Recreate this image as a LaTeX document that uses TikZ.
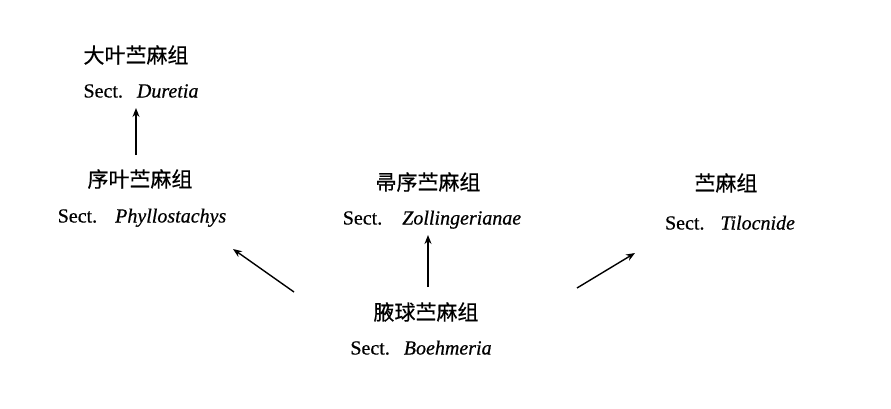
\documentclass[tikz,border=0pt]{standalone}
\usepackage{fontspec}
\setmainfont{Liberation Serif}[FakeBold=0.6]
\newfontfamily\cjk{Noto Sans CJK SC}[FakeBold=0.6]
\usetikzlibrary{arrows.meta}
\begin{document}
\begin{tikzpicture}[x=1pt,y=1pt,
  cn/.style={font=\cjk\fontsize{21}{24}\selectfont, inner sep=0pt, anchor=base},
  lt/.style={font=\fontsize{20}{24}\selectfont, inner sep=0pt, anchor=base},
  arr/.style={-{Stealth[length=9pt,width=7pt]}, line width=1.4pt}]
\useasboundingbox (0,0) rectangle (891,408);
% top-left group
\node[cn] (durCN) at (136,345) {大叶苎麻组};
\node[lt] (durLT) at (141,310.5) {Sect.\hspace{14pt}\textit{Duretia}};
% left group
\node[cn] (phyCN) at (140,221) {序叶苎麻组};
\node[lt] (phyLT) at (142,185.5) {Sect.\hspace{18pt}\textit{Phyllostachys}};
% middle group
\node[cn] (zolCN) at (428,218) {帚序苎麻组};
\node[lt] (zolLT) at (432,183.5) {Sect.\hspace{20pt}\textit{Zollingerianae}};
% right group
\node[cn] (tilCN) at (726,217) {苎麻组};
\node[lt] (tilLT) at (730,178.5) {Sect.\hspace{16pt}\textit{Tilocnide}};
% bottom group
\node[cn] (boeCN) at (426,88) {腋球苎麻组};
\node[lt] (boeLT) at (421,53.5) {Sect.\hspace{14pt}\textit{Boehmeria}};
% arrow end points
\coordinate (a1t) at (136,253);
\coordinate (a1h) at (136,300);
\coordinate (a2t) at (428,121);
\coordinate (a2h) at (428,173);
\coordinate (a3t) at (294,116);
\coordinate (a3h) at (233,159);
\coordinate (a4t) at (577,120);
\coordinate (a4h) at (635,155);
\draw[arr] (a1t) -- (a1h);
\draw[arr] (a2t) -- (a2h);
\draw[arr] (a3t) -- (a3h);
\draw[arr] (a4t) -- (a4h);
\end{tikzpicture}
\end{document}
